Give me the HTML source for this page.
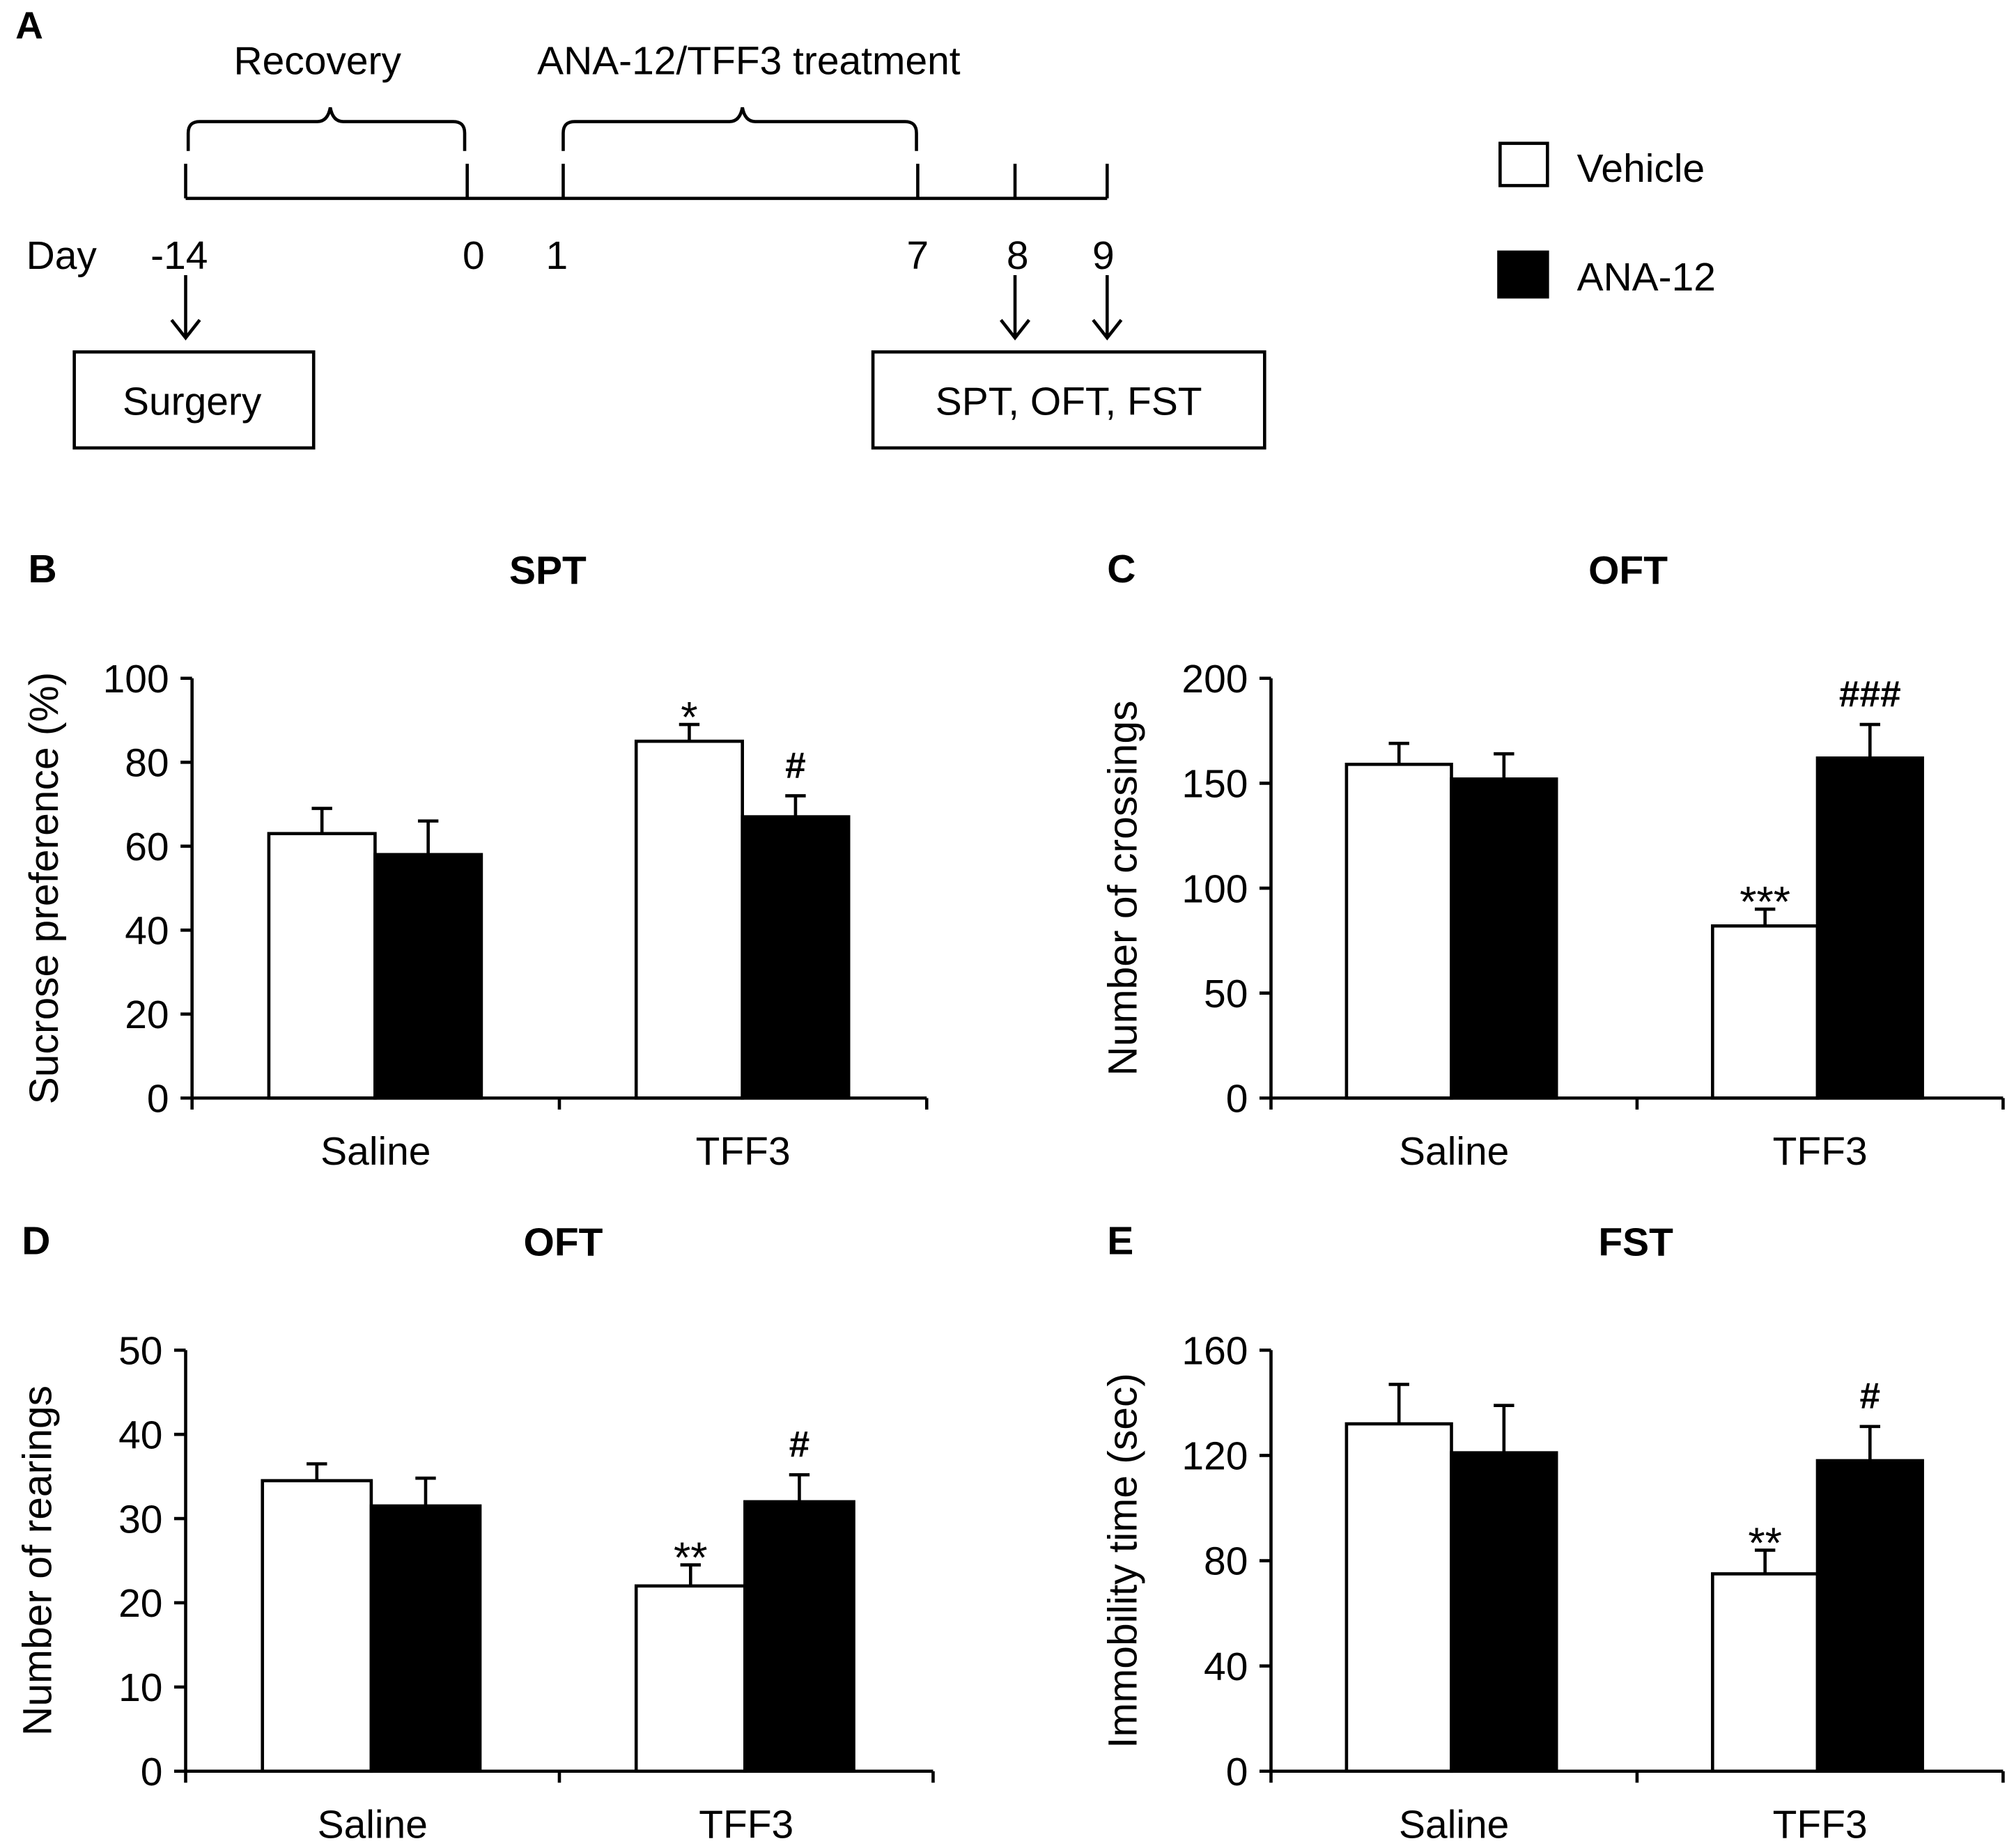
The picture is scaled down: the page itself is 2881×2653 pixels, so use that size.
<!DOCTYPE html>
<html><head><meta charset="utf-8"><style>
html,body{margin:0;padding:0;background:#fff;}
svg{display:block;font-family:"Liberation Sans",Arial,sans-serif;}
</style></head><body>
<svg id="fig" width="2881" height="2653" viewBox="0 0 1568 1444" xmlns="http://www.w3.org/2000/svg">
<g stroke="#000" stroke-width="2.5" fill="none">
<text x="12" y="30" font-size="30" font-weight="bold" fill="#000" stroke="none">A</text>
<text x="248" y="58" font-size="31" text-anchor="middle" fill="#000" stroke="none">Recovery</text>
<text x="585" y="58" font-size="31" text-anchor="middle" fill="#000" stroke="none">ANA-12/TFF3 treatment</text>
<path d="M147 118 V104 Q147 95 156 95 H248 Q256 95 258 84 Q260 95 268 95 H354 Q363 95 363 104 V118"/>
<path d="M440 118 V104 Q440 95 449 95 H570 Q578 95 580 84 Q582 95 590 95 H707 Q716 95 716 104 V118"/>
<line x1="145" y1="155" x2="865" y2="155"/>
<path d="M145 128V155 M365 128V155 M440 128V155 M717 128V155 M793 128V155 M865 128V155"/>
<g font-size="31" fill="#000" stroke="none" text-anchor="middle">
<text x="48" y="210">Day</text>
<text x="140" y="210">-14</text><text x="370" y="210">0</text><text x="435" y="210">1</text>
<text x="717" y="210">7</text><text x="795" y="210">8</text><text x="862" y="210">9</text>
</g>
<path d="M145 215V264 M134 250L145 264L156 250 M793 215V264 M782 250L793 264L804 250 M865 215V264 M854 250L865 264L876 250"/>
<rect x="58" y="275" width="187" height="75"/>
<text x="150" y="324" font-size="31" text-anchor="middle" fill="#000" stroke="none">Surgery</text>
<rect x="682" y="275" width="306" height="75"/>
<text x="835" y="324" font-size="31" text-anchor="middle" fill="#000" stroke="none">SPT, OFT, FST</text>
<rect x="1172" y="112" width="37" height="33" fill="#fff"/>
<text x="1232" y="142" font-size="31" fill="#000" stroke="none">Vehicle</text>
<rect x="1171" y="197" width="38" height="35" fill="#000"/>
<text x="1232" y="227" font-size="31" fill="#000" stroke="none">ANA-12</text>
</g>
<g id="charts"></g>
</svg>
<script>
const categories = ["Saline", "TFF3"];
const sptVehicle = [63, 85], sptVehicleErr = [6, 4], sptAna = [58, 67], sptAnaErr = [8, 5];
const crossVehicle = [159, 82], crossVehicleErr = [10, 8], crossAna = [152, 162], crossAnaErr = [12, 16];
const rearVehicle = [34.5, 22], rearVehicleErr = [2, 2.5], rearAna = [31.5, 32], rearAnaErr = [3.3, 3.2];
const fstVehicle = [132, 75], fstVehicleErr = [15, 9], fstAna = [121, 118], fstAnaErr = [18, 13];
const sptTicks = [0, 20, 40, 60, 80, 100];
const crossTicks = [0, 50, 100, 150, 200];
const rearTicks = [0, 10, 20, 30, 40, 50];
const fstTicks = [0, 40, 80, 120, 160];
const sptSig = [["", ""], ["*", "#"]];
const crossSig = [["", ""], ["***", "###"]];
const rearSig = [["", ""], ["**", "#"]];
const fstSig = [["", ""], ["**", "#"]];

const NS = "http://www.w3.org/2000/svg";
const root = document.getElementById("charts");
function mk(tag, attrs, parent, text) {
  const e = document.createElementNS(NS, tag);
  for (const k in attrs) e.setAttribute(k, attrs[k]);
  if (text !== undefined) e.textContent = text;
  parent.appendChild(e);
  return e;
}
function chart(cfg) {
  const g = mk("g", {}, root);
  
  
  const max = cfg.ticks[cfg.ticks.length - 1];
  const y = v => cfg.y0 - (v / max) * (cfg.y0 - cfg.y1);
  const xEnd = cfg.x0 + 2 * cfg.groupW;
  const pl = mk("text", {x: cfg.x0 - 128, y: cfg.y1 - 75, "font-size": 31, "font-weight": "bold"}, g, cfg.letter);
  
  
  const t = mk("text", {x: cfg.titleX, y: cfg.y1 - 74, "font-size": 31, "font-weight": "bold", "text-anchor": "middle"}, g, cfg.title);
  
  
  const yt = mk("text", {x: 0, y: 0, "font-size": 32, "text-anchor": "middle", transform: `translate(${cfg.x0 - 105},${(cfg.y0 + cfg.y1) / 2}) rotate(-90)`}, g, cfg.ytitle);
  
  
  cfg.ticks.forEach(v => {
    const l = mk("line", {x1: cfg.x0 - 9, x2: cfg.x0, y1: y(v), y2: y(v), stroke: "#000", "stroke-width": 2.5}, g);
    
    
    const tx = mk("text", {x: cfg.x0 - 18, y: y(v) + 11, "font-size": 31, "text-anchor": "end"}, g, String(v));
    
    
  });
  const series = [[cfg.veh, cfg.vehErr, "#fff"], [cfg.ana, cfg.anaErr, "#000"]];
  categories.forEach((c, i) => {
    const gx = cfg.x0 + i * cfg.groupW;
    series.forEach((s, j) => {
      const bx = gx + cfg.pad + j * cfg.barW;
      const v = s[0][i], e = s[1][i];
      const cx = bx + cfg.barW / 2;
      const er = mk("path", {d: `M${cx} ${y(v)}V${y(v + e)}M${cx - 8} ${y(v + e)}H${cx + 8}`, stroke: "#000", "stroke-width": 2.5, fill: "none"}, g);
      
      
      const r = mk("rect", {x: bx, y: y(v), width: cfg.barW, height: cfg.y0 - y(v), fill: s[2], stroke: "#000", "stroke-width": 2.5}, g);
      
      
      const sig = cfg.sig[i][j];
      if (sig) {
        const isStar = sig[0] === "*";
        const st = mk("text", {x: cx, y: y(v + e) - (isStar ? -6 : 14), "font-size": isStar ? 34 : 29, "font-weight": isStar ? "normal" : "bold", "text-anchor": "middle"}, g, sig);
        
        
      }
    });
    const cl = mk("text", {x: gx + cfg.groupW / 2, y: cfg.y0 + 52, "font-size": 31, "text-anchor": "middle"}, g, c);
    
    
  });
  const ax = mk("path", {d: `M${cfg.x0} ${cfg.y1}V${cfg.y0}H${xEnd}M${cfg.x0 + cfg.groupW} ${cfg.y0}v9M${xEnd} ${cfg.y0}v9M${cfg.x0} ${cfg.y0}v9`, stroke: "#000", "stroke-width": 2.5, fill: "none"}, g);
  
  
}
chart({name: "chart-spt", letter: "B", title: "SPT", titleX: 428, ytitle: "Sucrose preference (%)", x0: 150, y0: 858, y1: 530, groupW: 287, pad: 60, barW: 83, ticks: sptTicks, veh: sptVehicle, vehErr: sptVehicleErr, ana: sptAna, anaErr: sptAnaErr, sig: sptSig});
chart({name: "chart-crossings", letter: "C", title: "OFT", titleX: 1272, ytitle: "Number of crossings", x0: 993, y0: 858, y1: 530, groupW: 286, pad: 59, barW: 82, ticks: crossTicks, veh: crossVehicle, vehErr: crossVehicleErr, ana: crossAna, anaErr: crossAnaErr, sig: crossSig});
chart({name: "chart-rearings", letter: "D", title: "OFT", titleX: 440, ytitle: "Number of rearings", x0: 145, y0: 1384, y1: 1055, groupW: 292, pad: 60, barW: 85, ticks: rearTicks, veh: rearVehicle, vehErr: rearVehicleErr, ana: rearAna, anaErr: rearAnaErr, sig: rearSig});
chart({name: "chart-fst", letter: "E", title: "FST", titleX: 1278, ytitle: "Immobility time (sec)", x0: 993, y0: 1384, y1: 1055, groupW: 286, pad: 59, barW: 82, ticks: fstTicks, veh: fstVehicle, vehErr: fstVehicleErr, ana: fstAna, anaErr: fstAnaErr, sig: fstSig});
</script>
</body></html>
